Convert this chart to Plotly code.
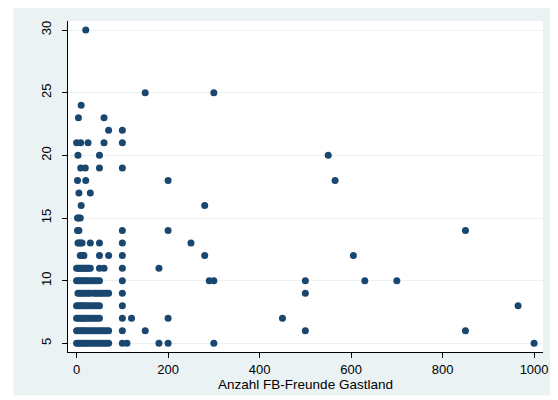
import plotly.graph_objects as go

# x = Anzahl FB-Freunde Gastland, y = value (integer rows)
row_30 = [20]
row_25 = [150, 300]
row_24 = [10]
row_23 = [4, 60]
row_22 = [70, 100]
row_21 = [0, 9, 25, 60, 100]
row_20 = [3, 50, 550]
row_19 = [9, 19, 50, 100]
row_18 = [2, 20, 200, 565]
row_17 = [5, 30]
row_16 = [10, 280]
row_15 = [2, 5, 8]
row_14 = [2, 5, 100, 200, 850]
row_13 = [3, 6, 9, 12, 30, 50, 100, 250]
row_12 = [8, 11, 14, 16, 50, 70, 100, 280, 605]
row_11 = [0, 3, 6, 9, 12, 15, 18, 21, 24, 27, 30, 50, 60, 100, 180]
row_10 = [0, 4, 8, 12, 16, 20, 25, 30, 35, 40, 45, 50, 100, 290, 300, 500, 630, 700]
row_9 = [3, 7, 11, 15, 20, 25, 30, 38, 42, 46, 50, 55, 60, 65, 70, 100, 500]
row_8 = [0, 4, 8, 12, 16, 20, 25, 30, 35, 40, 45, 50, 100, 965]
row_7 = [0, 4, 8, 12, 16, 20, 25, 30, 35, 40, 45, 50, 100, 120, 200, 450]
row_6 = [0, 4, 8, 12, 16, 20, 25, 30, 35, 40, 45, 50, 55, 60, 65, 70, 100, 150, 500, 850]
row_5 = [0, 4, 8, 12, 16, 20, 25, 30, 35, 40, 45, 50, 55, 60, 65, 70, 100, 110, 180, 200, 300, 1000]

rows = {30: row_30, 25: row_25, 24: row_24, 23: row_23, 22: row_22, 21: row_21,
        20: row_20, 19: row_19, 18: row_18, 17: row_17, 16: row_16, 15: row_15,
        14: row_14, 13: row_13, 12: row_12, 11: row_11, 10: row_10, 9: row_9,
        8: row_8, 7: row_7, 6: row_6, 5: row_5}

x_tick_vals = [0, 200, 400, 600, 800, 1000]
y_tick_vals = [5, 10, 15, 20, 25, 30]
x_title = "Anzahl FB-Freunde Gastland"

xs, ys = [], []
for yv, xl in rows.items():
    for xv in xl:
        xs.append(xv)
        ys.append(yv)

BG = "#EAF2F3"
NAVY = "#1a476f"

fig = go.Figure()
fig.add_trace(go.Scatter(x=xs, y=ys, mode="markers",
                         marker=dict(color=NAVY, size=7, line=dict(width=0)),
                         showlegend=False, hoverinfo="x+y"))

# page body has an 8px default margin; figure occupies the rest of the window
OFF = 8
W, H = 558 - OFF, 400 - OFF
L, R, T, B = 68 - OFF, 9.7, 21 - OFF, 48.3
pw, ph = W - L - R, H - T - B

def px_to_paper_x(px):
    return (px - OFF - L) / pw

def px_to_paper_y(py):
    return (H - B - (py - OFF)) / ph

fig.add_shape(type="rect", xref="paper", yref="paper",
              x0=px_to_paper_x(13), x1=px_to_paper_x(562),
              y0=px_to_paper_y(395), y1=px_to_paper_y(4),
              fillcolor=BG, line=dict(width=0), layer="below")
fig.add_shape(type="rect", xref="paper", yref="paper",
              x0=0, x1=1, y0=0, y1=1,
              fillcolor="white", line=dict(width=0), layer="below")

fig.update_layout(
    width=W, height=H,
    margin=dict(l=L, r=R, t=T, b=B, pad=0),
    paper_bgcolor="white", plot_bgcolor="white",
    font=dict(family="Liberation Sans, Arial, sans-serif", size=13, color="#000000"),
    xaxis=dict(range=[-18.8, 1019.5], tickvals=x_tick_vals, ticks="outside",
               ticklen=5, tickcolor="#000000", showgrid=False, zeroline=False,
               showline=True, linecolor="#000000", linewidth=1,
               tickfont=dict(size=13),
               title=dict(text=x_title, font=dict(size=13.5), standoff=2)),
    yaxis=dict(range=[4.31, 30.72], tickvals=y_tick_vals, ticks="outside",
               ticklen=5, tickcolor="#000000", showgrid=True, gridcolor=BG,
               gridwidth=1, zeroline=False, showline=True, linecolor="#000000",
               linewidth=1, tickangle=-90, tickfont=dict(size=13),
               ticklabelstandoff=6),
)

fig.write_html("out.html")
